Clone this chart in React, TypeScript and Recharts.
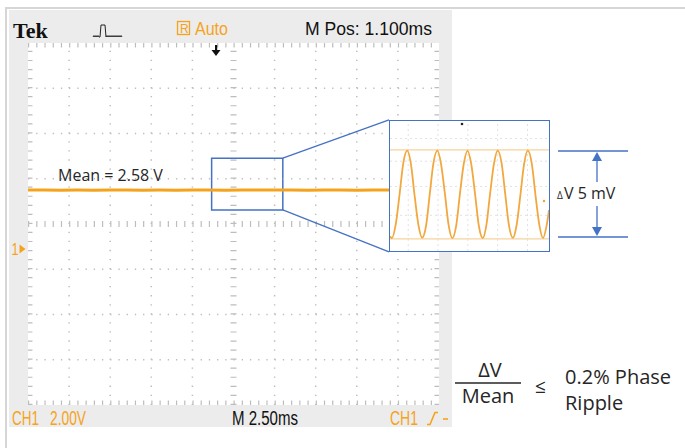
import React from "react";
import { LineChart, Line, XAxis, YAxis, ReferenceLine, ReferenceArea } from "recharts";

// CH1 acquisition: 2.50 ms/div, 2.00 V/div, ground marker 0.54 div below centre
const traceTimeMs = [0, 1, 2, 3, 4, 5, 6, 7, 8, 9, 10, 11, 12, 13, 14, 15, 16, 17, 18, 19, 20, 21, 22, 23, 24, 25];
const traceVolts = [2.58, 2.585, 2.575, 2.58, 2.57, 2.58, 2.585, 2.575, 2.58, 2.572, 2.58, 2.585, 2.575, 2.58, 2.578, 2.585, 2.58, 2.575, 2.585, 2.58, 2.575, 2.58, 2.585, 2.58, 2.575, 2.58];

const timeDivsMs = [2.5, 5, 7.5, 10, 15, 17.5, 20, 22.5];
const voltDivs = [7.08, 5.08, 3.08, -0.92, -2.92, -4.92];
const centreTimeMs = 12.5;
const centreVolt = 1.08;

// zoomed ripple (inset), mV about the mean
const rippleTimeMs = [0, 0.06, 0.17, 0.29, 0.4, 0.52, 0.63, 0.74, 0.86, 0.97, 1.09, 1.2, 1.31, 1.43, 1.54, 1.66, 1.77, 1.88, 2.0, 2.11, 2.23, 2.34, 2.45, 2.57, 2.68, 2.8, 2.91, 3.02, 3.14, 3.25, 3.37, 3.48, 3.59, 3.71, 3.82, 3.94, 4.05, 4.16, 4.28, 4.39, 4.51, 4.62, 4.73, 4.8];
const rippleMv = [-2.4, -2.5, -1.75, 0.02, 1.78, 2.5, 1.76, -0.02, -1.77, -2.48, -1.78, 0.01, 1.77, 2.5, 1.75, 0.0, -1.76, -2.5, -1.77, 0.02, 1.78, 2.49, 1.76, -0.01, -1.78, -2.5, -1.76, 0.01, 1.77, 2.5, 1.77, 0.0, -1.76, -2.49, -1.78, 0.02, 1.76, 2.5, 1.77, -0.01, -1.77, -2.5, -1.76, -0.9];
const rippleGridMs = [0.55, 1.45, 2.35, 3.25, 4.15];
const rippleGridMv = [3.2, 1.9, 0.45, -1.2];
const rippleBand = [2.55, -2.55];

// zoom box on the main trace and where it lands
const zoomBox = { t1: 11.17, t2: 15.5, v1: 1.7, v2: 3.99 };
const insetCorner = { t: 21.96, vTop: 5.68, vBottom: -0.15 };

const traceData = traceTimeMs.map((t, i) => ({ t, v: traceVolts[i] }));
const rippleData = rippleTimeMs.map((t, i) => ({ t, mv: rippleMv[i] }));

const ORANGE = "#f5a31c";
const BLUE = "#4472c4";
const DOT = "#bdbdbd";
const narrow = "'Liberation Sans', 'DejaVu Sans', sans-serif";
const sans = "'Open Sans', 'Noto Sans', sans-serif";

// condensed scope lettering, squeezed to the measured width
function ScopeText({ x, y, w, size, fill, children }: { x: number; y: number; w: number; size: number; fill: string; children: string }) {
  return (
    <text x={x} y={y} fontFamily={narrow} fontSize={size} fill={fill} textLength={w} lengthAdjust="spacingAndGlyphs">
      {children}
    </text>
  );
}

export default function App() {
  return (
    <div style={{ position: "absolute", left: 0, top: 0, width: 685, height: 448, background: "#fff", overflow: "hidden" }}>
      <div style={{ position: "absolute", left: 5, top: 7, width: 680, height: 441, borderTop: "2px solid #d6d6d6", borderLeft: "2px solid #d6d6d6" }} />
      <div style={{ position: "absolute", left: 9, top: 10, width: 443, height: 417, background: "#ececec" }} />

      <div style={{ position: "absolute", left: 28, top: 43, width: 411, height: 362, background: "#fff" }}>
        <LineChart width={411} height={362} data={traceData} margin={{ top: 0, right: 0, bottom: 0, left: 0 }}>
          <XAxis type="number" dataKey="t" domain={[0, 25]} hide />
          <YAxis type="number" domain={[-6.92, 9.08]} hide />
          {timeDivsMs.map((t) => (
            <ReferenceLine key={`vx${t}`} x={t} stroke={DOT} strokeWidth={1.5} strokeDasharray="1.3 7.75" />
          ))}
          {voltDivs.map((v) => (
            <ReferenceLine key={`hy${v}`} y={v} stroke={DOT} strokeWidth={1.5} strokeDasharray="1.3 6.92" />
          ))}
          <ReferenceLine x={centreTimeMs} stroke={DOT} strokeWidth={6} strokeDasharray="1.2 7.85" />
          <ReferenceLine y={centreVolt} stroke={DOT} strokeWidth={6} strokeDasharray="1.2 7.02" />
          <ReferenceLine x={0.12} stroke={DOT} strokeWidth={5} strokeDasharray="1.2 7.85" />
          <ReferenceLine x={24.88} stroke={DOT} strokeWidth={5} strokeDasharray="1.2 7.85" />
          <ReferenceLine y={8.99} stroke={DOT} strokeWidth={5} strokeDasharray="1.2 7.02" />
          <ReferenceLine y={-6.83} stroke={DOT} strokeWidth={5} strokeDasharray="1.2 7.02" />
          <Line type="linear" dataKey="v" stroke={ORANGE} strokeWidth={3} dot={false} isAnimationActive={false} />
          <ReferenceArea x1={zoomBox.t1} x2={zoomBox.t2} y1={zoomBox.v1} y2={zoomBox.v2} fill="none" stroke={BLUE} strokeWidth={1.5} ifOverflow="visible" />
          <ReferenceLine segment={[{ x: zoomBox.t2, y: zoomBox.v2 }, { x: insetCorner.t, y: insetCorner.vTop }]} stroke={BLUE} strokeWidth={1.3} ifOverflow="visible" />
          <ReferenceLine segment={[{ x: zoomBox.t2, y: zoomBox.v1 }, { x: insetCorner.t, y: insetCorner.vBottom }]} stroke={BLUE} strokeWidth={1.3} ifOverflow="visible" />
        </LineChart>
      </div>

      <div style={{ position: "absolute", left: 390, top: 121, width: 159, height: 130, background: "#fff", outline: `1.6px solid ${BLUE}` }}>
        <LineChart width={159} height={130} data={rippleData} margin={{ top: 0, right: 0, bottom: 0, left: 0 }}>
          <XAxis type="number" dataKey="t" domain={[0, 4.8]} hide />
          <YAxis type="number" domain={[-3.24, 4.2]} hide />
          {rippleGridMs.map((t) => (
            <ReferenceLine key={`rx${t}`} x={t} stroke="#e2e2e2" strokeWidth={1} strokeDasharray="2 3" />
          ))}
          {rippleGridMv.map((v) => (
            <ReferenceLine key={`ry${v}`} y={v} stroke="#e2e2e2" strokeWidth={1} strokeDasharray="2 3" />
          ))}
          {rippleBand.map((v) => (
            <ReferenceLine key={`rb${v}`} y={v} stroke="#f7d39c" strokeWidth={1.3} />
          ))}
          <Line type="monotone" dataKey="mv" stroke="#f2a83e" strokeWidth={1.8} dot={false} isAnimationActive={false} />
        </LineChart>
      </div>

      <svg width={685} height={448} style={{ position: "absolute", left: 0, top: 0, pointerEvents: "none" }}>
        {/* header */}
        <text x={13} y={38} fontFamily="'Liberation Serif', 'DejaVu Serif', serif" fontWeight="bold" fontSize={22} fill="#111">Tek</text>
        <path d="M93 37 l1 -1.5 l1 1.5 l1 -1.5 l1 1.5 l1 -1.5 l1 1.5 L100 37 L101 25 L105 25 L106 37 l1 -1.5 l1 1.5 l1 -1.5 l1 1.5 l1 -1.5 l1 1.5 l1 -1.5 l1 1.5 l1 -1.5 l1 1.5 l1 -1.5 l1 1.5 l1 -1.5 l1 1.5 l1 -1.5 l1 1.5" fill="none" stroke="#222" strokeWidth={1} />
        <rect x={177.5} y={21.5} width={12} height={13} fill="none" stroke={ORANGE} strokeWidth={1.3} />
        <text x={180} y={33} fontFamily={narrow} fontSize={12} fill={ORANGE}>R</text>
        <ScopeText x={195} y={35} w={33} size={18} fill={ORANGE}>Auto</ScopeText>
        <ScopeText x={305} y={35} w={127} size={18} fill="#111">M Pos: 1.100ms</ScopeText>
        <rect x={215} y={45} width={2.2} height={5} fill="#111" />
        <polygon points="211.5,50 220.5,50 216,56" fill="#111" />

        {/* ground marker */}
        <ScopeText x={11.5} y={254.5} w={7} size={17} fill={ORANGE}>1</ScopeText>
        <polygon points="19.5,244.5 25.5,249 19.5,253.5" fill={ORANGE} />

        {/* footer */}
        <ScopeText x={12} y={425} w={27} size={20} fill={ORANGE}>CH1</ScopeText>
        <ScopeText x={50} y={425} w={36} size={20} fill={ORANGE}>2.00V</ScopeText>
        <ScopeText x={232} y={425} w={66} size={20} fill="#111">M 2.50ms</ScopeText>
        <ScopeText x={390} y={425} w={28} size={20} fill={ORANGE}>CH1</ScopeText>
        <path d="M427 424.5 L430 424.5 L435 412.5 L438 412.5" fill="none" stroke={ORANGE} strokeWidth={1.6} />
        <line x1={443} y1={419} x2={448} y2={419} stroke={ORANGE} strokeWidth={1.6} />

        {/* annotations */}
        <text x={58} y={181} fontFamily={sans} fontSize={16} fill="#262626">Mean = 2.58 V</text>
        <circle cx={462} cy={124} r={1.3} fill="#222" />
        <circle cx={544} cy={201} r={1.2} fill={ORANGE} />

        <line x1={558} y1={151} x2={628} y2={151} stroke={BLUE} strokeWidth={1.3} />
        <line x1={558} y1={237} x2={628} y2={237} stroke={BLUE} strokeWidth={1.3} />
        <line x1={597} y1={159} x2={597} y2={182} stroke={BLUE} strokeWidth={1.3} />
        <polygon points="592,161 602,161 597,152" fill={BLUE} />
        <line x1={597} y1={206} x2={597} y2={229} stroke={BLUE} strokeWidth={1.3} />
        <polygon points="592,227 602,227 597,236" fill={BLUE} />
        <text x={557} y={199} fontFamily={sans} fontSize={10} fill="#262626">Δ</text>
        <text x={564} y={199} fontFamily={sans} fontSize={16} fill="#262626">V 5 mV</text>

        <text x={490} y={377} textAnchor="middle" fontFamily={sans} fontSize={20} fill="#262626">ΔV</text>
        <line x1={455} y1={383} x2={521} y2={383} stroke="#262626" strokeWidth={1.6} />
        <text x={488} y={403} textAnchor="middle" fontFamily={sans} fontSize={20} fill="#262626">Mean</text>
        <text x={535} y={393} fontFamily={sans} fontSize={19} fill="#262626">≤</text>
        <text x={565} y={384} fontFamily={sans} fontSize={20} fill="#262626">0.2% Phase</text>
        <text x={565} y={410} fontFamily={sans} fontSize={20} fill="#262626">Ripple</text>
      </svg>
    </div>
  );
}
